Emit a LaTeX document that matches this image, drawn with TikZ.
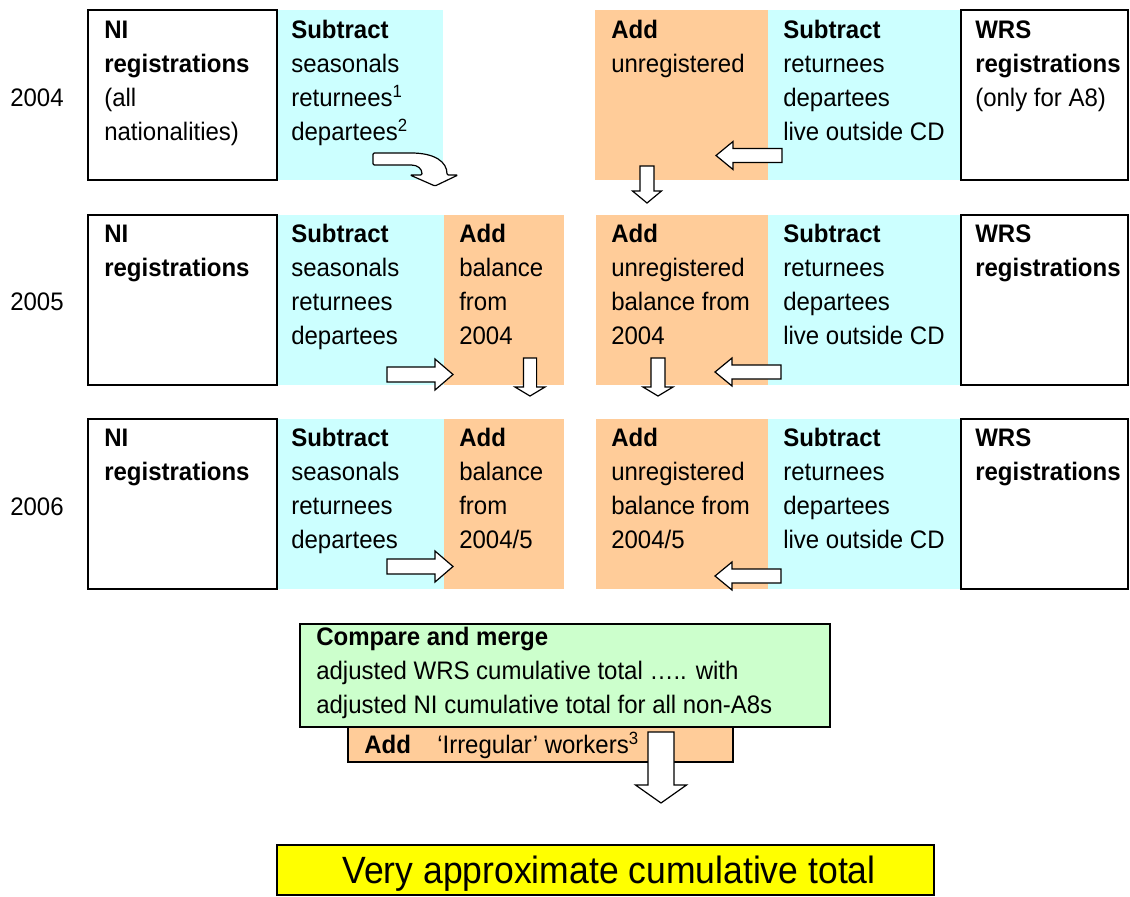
\documentclass[tikz,border=0pt]{standalone}
\usepackage{fontspec}
\setmainfont{Liberation Sans}[FakeStretch=0.947]
\newfontfamily\bigfont{Liberation Sans}[FakeStretch=0.935]
\definecolor{cy}{HTML}{CCFFFF}
\definecolor{og}{HTML}{FFCC99}
\definecolor{gr}{HTML}{CCFFCC}
\definecolor{yl}{HTML}{FFFF00}
\newcommand\tb[1]{\begin{tabular}[t]{@{}l@{}}#1\end{tabular}}
\newcommand\Rect[6]{\node[#1,anchor=north west,inner sep=0pt,outer sep=0pt,minimum width={(#5-#3)*0.75pt},minimum height={(#6-#4)*0.75pt}] (#2) at (#3,#4) {};}
\newcommand\RArr[2]{\draw[barrow] (#1,{#2-7.5}) -- ({#1+48},{#2-7.5}) -- ({#1+48},{#2-15.5}) -- ({#1+66},#2) -- ({#1+48},{#2+15.5}) -- ({#1+48},{#2+7.5}) -- (#1,{#2+7.5}) -- cycle;}
\newcommand\LArr[2]{\draw[barrow] (#1,#2) -- ({#1+17},{#2-14}) -- ({#1+17},{#2-7}) -- ({#1+66},{#2-7}) -- ({#1+66},{#2+7}) -- ({#1+17},{#2+7}) -- ({#1+17},{#2+14}) -- cycle;}
\newcommand\DArr[7]{\draw[barrow] ({#1-#5},#2) -- ({#1+#5},#2) -- ({#1+#5},#3) -- ({#1+#6},#3) -- (#1,#4) -- ({#1-#6},#3) -- ({#1-#5},#3) -- cycle;}
\begin{document}
\begin{tikzpicture}[x=0.75pt,y=-0.75pt,
  font=\fontsize{19}{25.5}\selectfont,
  txt/.style={anchor=base west,inner sep=0pt},
  cybox/.style={fill=cy},
  ogbox/.style={fill=og},
  wbox/.style={draw=black,line width=1.5pt,fill=white},
  barrow/.style={draw=black,line width=0.9pt,fill=white,line join=miter}]
\useasboundingbox (0,0) rectangle (1130,896);
\fill[white] (0,0) rectangle (1130,896);

% ---- row 2004
\Rect{cybox}{c1}{277}{10}{443}{180}
\Rect{ogbox}{o1r}{595}{10}{768}{180}
\Rect{cybox}{c1r}{768}{10}{961}{180}
\Rect{wbox}{ni1}{88}{10}{277}{180}
\Rect{wbox}{wrs1}{961}{10}{1128}{180}
% ---- row 2005
\Rect{cybox}{c2}{277}{215}{444}{385}
\Rect{ogbox}{o2}{444}{215}{564}{385}
\Rect{ogbox}{o2r}{596}{215}{768}{385}
\Rect{cybox}{c2r}{768}{215}{961}{385}
\Rect{wbox}{ni2}{88}{215}{277}{385}
\Rect{wbox}{wrs2}{961}{215}{1128}{385}
% ---- row 2006
\Rect{cybox}{c3}{277}{419}{444}{589}
\Rect{ogbox}{o3}{444}{419}{564}{589}
\Rect{ogbox}{o3r}{596}{419}{768}{589}
\Rect{cybox}{c3r}{768}{419}{961}{589}
\Rect{wbox}{ni3}{88}{419}{277}{589}
\Rect{wbox}{wrs3}{961}{419}{1128}{589}

% ---- year labels
\node[txt] (y1) at (10,106) {2004};
\node[txt] (y2) at (10,310) {2005};
\node[txt] (y3) at (10,515) {2006};

% ---- texts row 1
\node[txt] (t11) at (104,38) {\tb{\textbf{NI}\\\textbf{registrations}\\(all\\nationalities)}};
\node[txt] (t12) at (291,38) {\tb{\textbf{Subtract}\\seasonals\\returnees\textsuperscript{1}\\departees\textsuperscript{2}}};
\node[txt] (t13) at (611,38) {\tb{\textbf{Add}\\unregistered}};
\node[txt] (t14) at (783,38) {\tb{\textbf{Subtract}\\returnees\\departees\\live outside CD}};
\node[txt] (t15) at (975,38) {\tb{\textbf{WRS}\\\textbf{registrations}\\(only for A8)}};
% ---- texts row 2
\node[txt] (t21) at (104,242) {\tb{\textbf{NI}\\\textbf{registrations}}};
\node[txt] (t22) at (291,242) {\tb{\textbf{Subtract}\\seasonals\\returnees\\departees}};
\node[txt] (t23) at (459,242) {\tb{\textbf{Add}\\balance\\from\\2004}};
\node[txt] (t24) at (611,242) {\tb{\textbf{Add}\\unregistered\\balance from\\2004}};
\node[txt] (t25) at (783,242) {\tb{\textbf{Subtract}\\returnees\\departees\\live outside CD}};
\node[txt] (t26) at (975,242) {\tb{\textbf{WRS}\\\textbf{registrations}}};
% ---- texts row 3
\node[txt] (t31) at (104,446) {\tb{\textbf{NI}\\\textbf{registrations}}};
\node[txt] (t32) at (291,446) {\tb{\textbf{Subtract}\\seasonals\\returnees\\departees}};
\node[txt] (t33) at (459,446) {\tb{\textbf{Add}\\balance\\from\\2004/5}};
\node[txt] (t34) at (611,446) {\tb{\textbf{Add}\\unregistered\\balance from\\2004/5}};
\node[txt] (t35) at (783,446) {\tb{\textbf{Subtract}\\returnees\\departees\\live outside CD}};
\node[txt] (t36) at (975,446) {\tb{\textbf{WRS}\\\textbf{registrations}}};

% ---- arrows
\draw[barrow,rounded corners=1pt] (373,153) -- (410,153) .. controls (435,153) and (447,162) .. (447,175)
  -- (458,175) -- (435,186) -- (410,175) -- (422,175) .. controls (422,169) and (418,165) .. (410,165)
  -- (373,165) -- cycle;
\LArr{716}{155.5}
\DArr{647}{166}{191}{203}{7}{14.5}{}
\RArr{387}{374.5}
\DArr{530}{358}{387}{396}{6.6}{15}{}
\DArr{658}{358}{387}{396}{7}{15}{}
\LArr{715}{372}
\RArr{387}{566.5}
\LArr{715}{576}

% ---- merge section
\Rect{draw=black,line width=1.5pt,fill=gr}{cmp}{300}{624}{830}{727}
\Rect{draw=black,line width=1.5pt,fill=og}{addirr}{348}{727}{733}{762}
\node[txt] (tc) at (316,645) {\tb{\textbf{Compare and merge}\\adjusted WRS cumulative total ….. with\\adjusted NI cumulative total for all non-A8s}};
\node[txt] (ta) at (364,753) {\textbf{Add}};
\node[txt] (ti) at (437,753) {‘Irregular’ workers\textsuperscript{3}};
\DArr{661}{732}{785}{803}{13}{25.5}{}
\Rect{draw=black,line width=1.5pt,fill=yl}{tot}{277}{845}{934}{895}
\node[inner sep=0pt,anchor=base,font=\bigfont\fontsize{28.5}{34}\selectfont] (tt) at (609,883) {Very approximate cumulative total};
\end{tikzpicture}
\end{document}
